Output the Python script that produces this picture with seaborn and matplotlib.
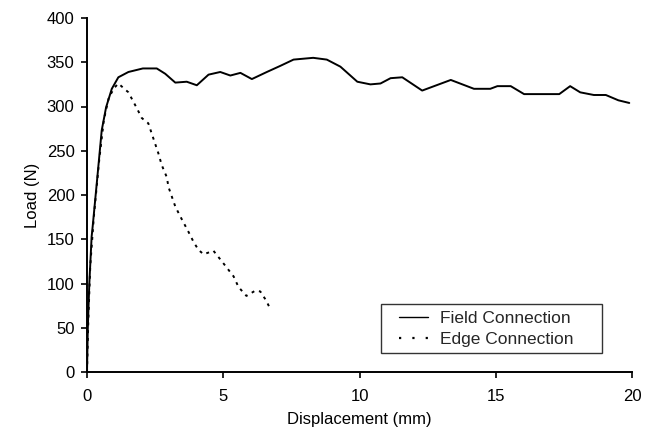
import matplotlib
matplotlib.use("Agg")
import matplotlib.pyplot as plt
import seaborn as sns
import pandas as pd
from matplotlib.lines import Line2D
from matplotlib.legend_handler import HandlerLine2D

field_x = [0, 0.03, 0.085, 0.17, 0.21, 0.37, 0.54, 0.70, 0.91, 1.15, 1.52, 2.05, 2.56,
           2.87, 3.24, 3.66, 4.03, 4.46, 4.89, 5.26, 5.63, 6.05, 6.6, 7.1, 7.58, 8.3, 8.8,
           9.3, 9.92, 10.4, 10.77, 11.14, 11.57, 12.3, 13.35, 14.2, 14.8, 15.06, 15.55,
           16.04, 17.33, 17.73, 18.1, 18.6, 19.04, 19.5, 19.9]
field_y = [0, 50, 100, 153, 165, 217, 273, 299, 320, 333, 339, 343, 343,
           337, 327, 328, 324, 336, 339, 335, 338, 331, 339, 346, 353, 355, 353,
           345, 328, 325, 326, 332, 333, 318, 330, 320, 320, 323, 323,
           314, 314, 323, 316, 313, 313, 307, 304]

edge_x = [0, 0.05, 0.12, 0.25, 0.45, 0.62, 0.8, 1.0, 1.15, 1.52, 1.64, 1.83, 2.01, 2.25,
          2.38, 2.62, 2.74, 2.93, 2.99, 3.24, 3.42, 3.73, 3.91, 4.09, 4.28, 4.64, 4.95,
          5.38, 5.56, 5.85, 6.18, 6.36, 6.57, 6.73]
edge_y = [0, 60, 120, 175, 240, 285, 310, 321, 326, 316, 309, 298, 287, 281,
          269, 247, 234, 220, 209, 187, 176, 158, 147, 138, 133, 137, 125,
          108, 96, 86, 92, 91, 81, 71]

series_names = ["Field Connection", "Edge Connection"]
x_ticks = [0, 5, 10, 15, 20]
y_ticks = [0, 50, 100, 150, 200, 250, 300, 350, 400]

df = pd.concat([
    pd.DataFrame({"x": field_x, "y": field_y, "s": series_names[0]}),
    pd.DataFrame({"x": edge_x, "y": edge_y, "s": series_names[1]}),
])

sns.set_style("ticks")
plt.rcParams["font.family"] = ["Liberation Sans", "DejaVu Sans"]

fig = plt.figure(figsize=(6.47, 4.45), dpi=100)
ax = fig.add_axes([87 / 647, (445 - 372) / 445, 545 / 647, 354 / 445])

sns.lineplot(data=df, x="x", y="y", hue="s", style="s",
             palette=["black", "black"],
             dashes={series_names[0]: "", series_names[1]: (1.5, 2.5)},
             sort=False, estimator=None, ax=ax, linewidth=1.4, legend=False)

ax.set_xlim(0, 20)
ax.set_ylim(0, 400)
ax.set_xticks(x_ticks)
ax.set_yticks(y_ticks)
ax.tick_params(axis="both", labelsize=12, color="black", length=4, width=1.2,
               labelcolor="black")
ax.tick_params(axis="x", pad=8)
ax.tick_params(axis="y", pad=5)
for side in ["top", "right"]:
    ax.spines[side].set_visible(False)
for side in ["left", "bottom"]:
    ax.spines[side].set_color("black")
    ax.spines[side].set_linewidth(1.4)

ax.set_xlabel("Displacement (mm)", fontsize=12, labelpad=6, color="black")
ax.set_ylabel("Load (N)", fontsize=12, labelpad=5, color="black")

handles = [Line2D([], [], color="black", lw=1.0),
           Line2D([], [], color="black", lw=1.6, linestyle=(0, (1, 5)))]
hmap = {h: HandlerLine2D(xpad=0.7) for h in handles}
leg = ax.legend(handles, series_names, loc="lower left",
                bbox_to_anchor=(0.539, 0.054, 0.406, 0.149), mode="expand",
                fontsize=12.5, frameon=True, fancybox=False, borderaxespad=0,
                handlelength=2.4, handletextpad=0.65, labelspacing=0.35,
                borderpad=0.35, handler_map=hmap)
leg.get_frame().set_edgecolor("black")
leg.get_frame().set_linewidth(1.0)

fig.savefig("out.png", dpi=100)
